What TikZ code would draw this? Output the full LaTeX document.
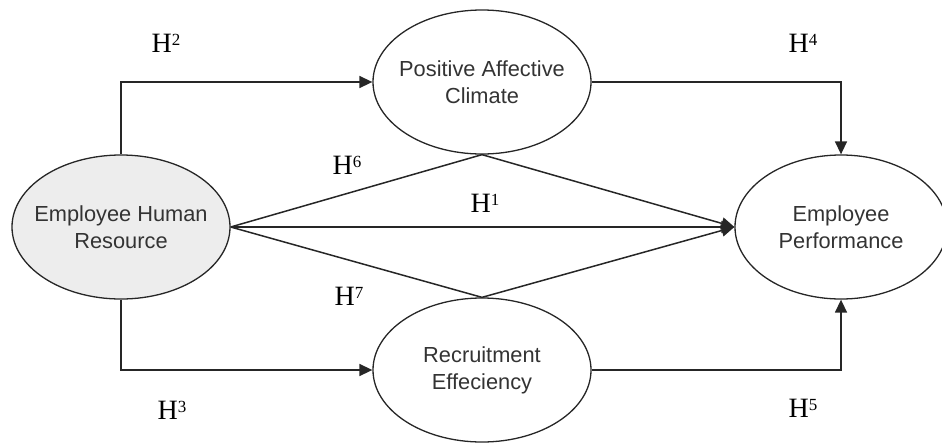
\documentclass[tikz,border=0pt]{standalone}
\usepackage{fontspec}
\setmainfont{Liberation Serif}
\setsansfont{Liberation Sans}
\usetikzlibrary{shapes.geometric,arrows.meta}
\newcommand{\hyp}[1]{H\raisebox{7pt}{\fontsize{17}{17}\selectfont #1}}
\tikzset{
  construct/.style={ellipse, draw=black!85, line width=1.3pt, inner sep=0pt,
    minimum width=218pt, minimum height=144pt},
  ctext/.style={align=center, inner sep=0pt,
    font=\sffamily\fontsize{21.8}{27}\selectfont, text=black!80},
  link/.style={line width=1.5pt, draw=black!85},
  arr/.style={link, -{Triangle[length=13pt,width=12pt]}},
  hlab/.style={font=\fontsize{28}{30}\selectfont, inner sep=0pt}
}
\begin{document}
\begin{tikzpicture}[x=1pt,y=-1pt]
\useasboundingbox (0,0) rectangle (942,442);
\node[construct, fill=black!7] (EHR) at (121,227) {};
\node[construct] (PAC) at (482,82) {};
\node[construct] (RE) at (482,370) {};
\node[construct, minimum width=212pt] (EP) at (841,227) {};
\node[ctext] (tEHR) at (EHR.center) {Employee Human\\Resource};
\node[ctext] (tPAC) at (PAC.center) {Positive Affective\\Climate};
\node[ctext] (tRE) at (RE.center) {Recruitment\\Effeciency};
\node[ctext] (tEP) at (EP.center) {Employee\\Performance};

\draw[arr] (EHR.north) |- (PAC.west);
\draw[arr] (EHR.south) |- (RE.west);
\draw[arr] (PAC.east) -| (EP.north);
\draw[arr] (RE.east) -| (EP.south);
\draw[link] (EHR.east) -- (PAC.south);
\draw[arr] (PAC.south) -- (EP.west);
\draw[arr] (EHR.east) -- (EP.west);
\draw[link] (EHR.east) -- (RE.north);
\draw[arr] (RE.north) -- (EP.west);

\node[hlab] (h2) at (166,43) {\hyp{2}};
\node[hlab] (h4) at (803,43) {\hyp{4}};
\node[hlab] (h6) at (347,165) {\hyp{6}};
\node[hlab] (h1) at (485,203) {\hyp{1}};
\node[hlab] (h7) at (349,296) {\hyp{7}};
\node[hlab] (h3) at (172,410) {\hyp{3}};
\node[hlab] (h5) at (803,408) {\hyp{5}};
\end{tikzpicture}
\end{document}
